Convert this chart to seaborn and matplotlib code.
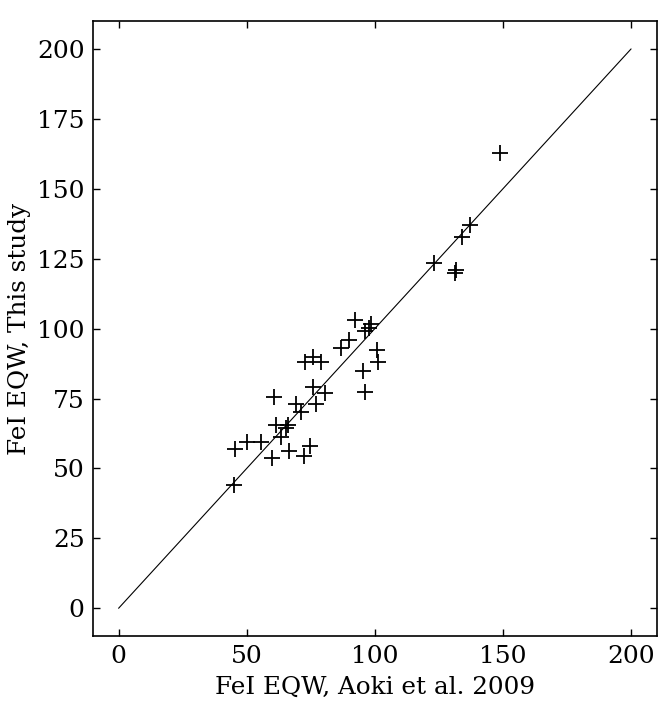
import matplotlib
matplotlib.use("Agg")
import matplotlib.pyplot as plt
import seaborn as sns
import numpy as np
import pandas as pd

# FeI equivalent widths: Aoki et al. 2009 vs this study
eqw_aoki = [148.9, 137.1, 134.0, 123.2, 131.7, 131.4,
            92.2, 98.6, 96.1, 97.9, 90.1, 86.8, 100.9, 101.1,
            72.8, 76.0, 79.0, 95.5, 75.8, 80.6, 96.3, 77.1,
            69.3, 71.2, 60.5, 61.5, 66.0, 65.3, 63.2, 50.0,
            55.6, 45.6, 66.7, 59.9, 72.5, 74.7, 45.2]
eqw_this = [162.9, 137.0, 132.8, 123.5, 120.9, 120.0,
            102.9, 101.6, 99.3, 100.2, 96.1, 92.9, 92.3, 88.1,
            88.1, 89.9, 88.1, 84.9, 79.2, 76.8, 77.2, 72.9,
            72.9, 70.2, 75.4, 65.5, 65.5, 64.3, 61.1, 59.5,
            59.5, 56.8, 56.3, 53.6, 54.4, 58.0, 44.0]
one_to_one = [0, 200]

df = pd.DataFrame({"aoki": eqw_aoki, "this": eqw_this})
line = pd.DataFrame({"x": one_to_one, "y": one_to_one})

sns.set_style("ticks")
plt.rcParams["font.family"] = ["DejaVu Serif"]
plt.rcParams["mathtext.fontset"] = "dejavuserif"
plt.rcParams["text.color"] = "black"
plt.rcParams["axes.labelcolor"] = "black"

fig = plt.figure(figsize=(6.64, 7.23), dpi=100)
ax = fig.add_axes([0.140, 0.120, 0.849, 0.851])

sns.lineplot(data=line, x="x", y="y", color="black", linewidth=0.8, ax=ax)
sns.scatterplot(data=df, x="aoki", y="this", marker="+", color="black",
                s=140, linewidth=1.3, ax=ax)

ax.set_xlim(-10, 210)
ax.set_ylim(-10, 210)
ax.set_xticks([0, 50, 100, 150, 200])
ax.set_yticks([0, 25, 50, 75, 100, 125, 150, 175, 200])
ax.tick_params(direction="in", top=True, right=True, labelsize=18,
               length=5, width=1, colors="black", labelcolor="black", pad=6)
for sp in ax.spines.values():
    sp.set_linewidth(1.2)
    sp.set_color("black")

ax.set_xlabel("FeI EQW, Aoki et al. 2009", fontsize=17.7, labelpad=6)
ax.set_ylabel("FeI EQW, This study", fontsize=17.7, labelpad=4)

fig.savefig("out.png", dpi=100)
